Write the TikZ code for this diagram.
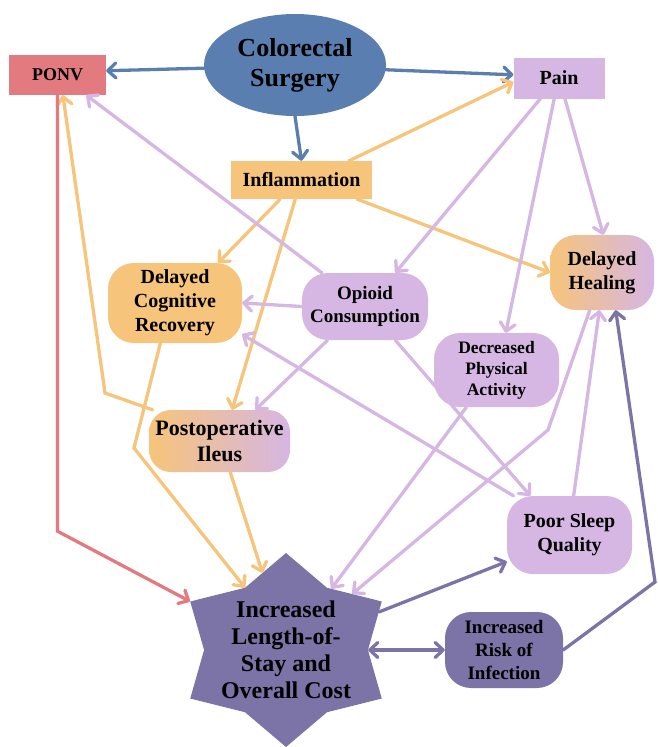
\documentclass[tikz,border=0pt]{standalone}
\usepackage{fontspec}
\setmainfont{Liberation Serif}
\usetikzlibrary{shapes.geometric, arrows.meta}

\definecolor{surgblue}{RGB}{90,126,176}
\definecolor{ponvred}{RGB}{226,122,128}
\definecolor{inflorange}{RGB}{246,196,122}
\definecolor{painlilac}{RGB}{214,182,227}
\definecolor{staypurple}{RGB}{124,115,166}

\tikzstyle{box}=[rectangle, inner sep=0pt, align=center,
font=\bfseries\fontsize{20}{24}\selectfont]
\tikzstyle{bubble}=[box, rounded corners=26pt]
\tikzstyle{link}=[line width=3.3pt, line cap=round,
>={Straight Barb[length=8pt,width=15pt,round]}, ->]

\begin{document}
\begin{tikzpicture}[x=1pt, y=-1pt]
  \useasboundingbox (0,0) rectangle (657,747);

  % Top Nodes
  \node (cs) at (295,65) [ellipse, fill=surgblue, inner sep=0pt, align=center,
    minimum width=182pt, minimum height=102pt,
    font=\bfseries\fontsize{26}{30}\selectfont] {Colorectal\\Surgery};
  \node (ponv) at (57.5,75) [box, fill=ponvred, minimum width=97pt,
    minimum height=40pt, font=\bfseries\fontsize{18}{22}\selectfont] {PONV};
  \node (pain) at (559,78) [box, fill=painlilac, minimum width=91pt,
    minimum height=41pt] {Pain};
  \node (infl) at (301.5,180) [box, fill=inflorange, minimum width=141pt,
    minimum height=38pt] {Inflammation};

  % Middle Nodes
  \node (dcr) at (175,303) [bubble, fill=inflorange, minimum width=134pt,
    minimum height=80pt] {Delayed\\Cognitive\\Recovery};
  \node (opioid) at (365,306.5) [bubble, fill=painlilac, minimum width=126pt,
    minimum height=67pt, font=\bfseries\fontsize{19}{23}\selectfont] {Opioid\\Consumption};
  \node (dh) at (602,272.5) [bubble, left color=inflorange, right color=painlilac,
    minimum width=104pt, minimum height=75pt] {Delayed\\Healing};
  \node (dpa) at (496.5,370) [bubble, fill=painlilac, minimum width=125pt,
    minimum height=74pt, font=\bfseries\fontsize{17.5}{21}\selectfont] {Decreased\\Physical\\Activity};
  \node (ileus) at (219.5,441) [bubble, left color=inflorange, right color=painlilac,
    minimum width=141pt, minimum height=62pt, rounded corners=22pt,
    font=\bfseries\fontsize{22}{26}\selectfont] {Postoperative\\Ileus};

  % Bottom Nodes
  \node (psq) at (569.5,535) [bubble, fill=painlilac, minimum width=125pt,
    minimum height=78pt] {Poor Sleep\\Quality};
  \node (iri) at (504,650) [bubble, fill=staypurple, minimum width=118pt,
    minimum height=76pt, font=\bfseries\fontsize{19}{23}\selectfont] {Increased\\Risk of\\Infection};
  \node (los) at (286,650) [star, star points=6, star point ratio=1.35,
    minimum size=194pt, inner sep=0pt, fill=staypurple,
    xscale=1.14, transform shape] {};
  \node (lostext) at (los.center) [align=center,
    font=\bfseries\fontsize{24}{27}\selectfont] {Increased\\Length-of-\\Stay and\\Overall Cost};

  % Surgery Edges
  \draw [link, surgblue] (cs.182) -- (ponv.5);
  \draw [link, surgblue] (cs.-3) -- (pain.176);
  \draw [link, surgblue] (cs.south) -- (infl.north);

  % Inflammation Edges
  \draw [link, inflorange] (infl.22) -- (pain.185);
  \draw [link, inflorange] (infl.222) -- (dcr.43);
  \draw [link, inflorange] (infl.252) -- (ileus.68);
  \draw [link, inflorange] (infl.-19) -- (dh.west);

  % Pain Edges
  \draw [link, painlilac] (pain.-74) -- (dh.88);
  \draw [link, painlilac] (pain.228) -- (opioid.48);
  \draw [link, painlilac] (pain.257) -- (dpa.76);

  % Opioid Edges
  \draw [link, painlilac] (opioid.142) -- (ponv.-35);
  \draw [link, painlilac] (opioid.west) -- (dcr.east);
  \draw [link, painlilac] (opioid.222) -- (ileus.41);
  \draw [link, painlilac] (opioid.-48) -- (psq.135);

  % Edges to PONV and Cognitive Recovery
  \draw [link, painlilac] (psq.145) -- (dcr.-25);
  \draw [link, inflorange] (ileus.155) -- (105,393) -- (ponv.-75);

  % Edges to Length-of-Stay
  \draw [link, ponvred] (ponv.south) -- ++(0,436) -- (los.outer point 2);
  \draw [link, inflorange] (dcr.250) -- (134,448) -- (los.inner point 1);
  \draw [link, inflorange] (ileus.-71) -- (los.105);
  \draw [link, painlilac] (dpa.231) -- (los.57);
  \draw [link, painlilac] (dh.252) -- (548,430) -- (los.44);

  % Healing and Infection Edges
  \draw [link, painlilac] (psq.84) -- (dh.266);
  \draw [link, staypurple] (los.25) -- (psq.203);
  \draw [link, staypurple, <->] (los.inner point 5) -- (iri.west);
  \draw [link, staypurple] (iri.east) -- (655,582) -- (dh.-70);
\end{tikzpicture}
\end{document}
